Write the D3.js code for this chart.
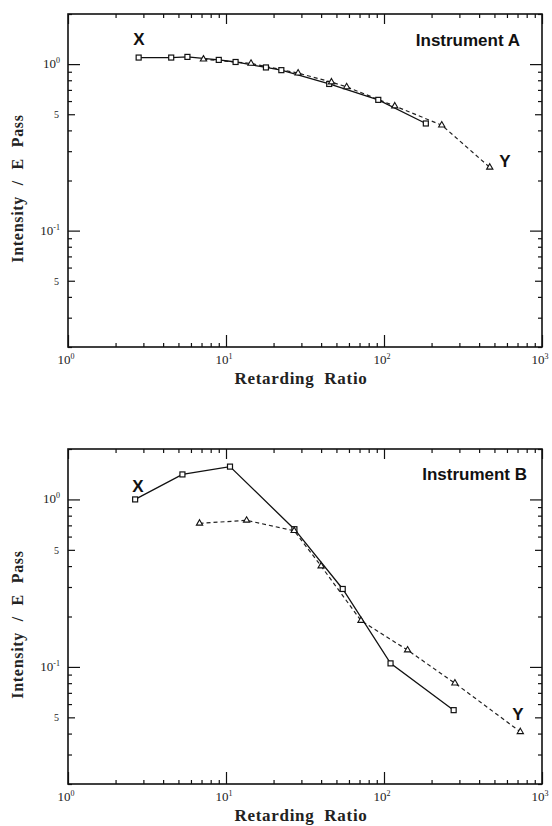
<!DOCTYPE html>
<html>
<head>
<meta charset="utf-8">
<script src="https://cdn.jsdelivr.net/npm/d3@7"></script>
<style>
  body { margin: 0; background: #fff; }
</style>
</head>
<body>
<svg id="chart" width="552" height="826"></svg>
<script>
'use strict';

// Instrument A : squares (solid, X) and triangles (dashed, Y)
var ratioSqA = [2.8, 4.5, 5.7, 9.0, 11.5, 17.9, 22.4, 45, 92, 184];
var intenSqA = [1.095, 1.095, 1.105, 1.06, 1.03, 0.955, 0.92, 0.76, 0.61, 0.44];
var ratioTrA = [7.2, 14.4, 28.6, 46.5, 58, 117, 232, 467];
var intenTrA = [1.07, 1.01, 0.883, 0.78, 0.73, 0.56, 0.43, 0.24];

// Instrument B
var ratioSqB = [2.66, 5.3, 10.6, 27.1, 54.8, 110, 276];
var intenSqB = [1.0, 1.41, 1.57, 0.664, 0.292, 0.105, 0.0552];
var ratioTrB = [6.8, 13.5, 27, 40, 71.5, 141, 281, 729];
var intenTrB = [0.72, 0.75, 0.65, 0.40, 0.189, 0.126, 0.080, 0.041];

// axis ticks
var xMajor = [1, 10, 100, 1000];
var xMajorExp = ['0', '1', '2', '3'];
var yMajor = [0.1, 1];
var yMajorExp = ['-1', '0'];
var yFive = [0.05, 0.5];
var xDomain = [1, 1000];
var yDomain = [0.02, 2];

var svg = d3.select('#chart');
var serif = '"Liberation Serif", "DejaVu Serif", serif';
var sans = '"Liberation Sans", Arial, sans-serif';

function minors(lo, hi) {
  var out = [];
  for (var d = lo; d < hi; d *= 10) {
    for (var k = 2; k <= 9; k++) {
      var v = k * d;
      if (v >= lo * 0.999 && v <= hi * 1.001) out.push(v);
    }
  }
  return out;
}

function powLabel(t, exp) {
  t.append('tspan').text('10');
  t.append('tspan').attr('dy', -5).attr('font-size', 8).text(exp);
}

function drawPanel(cfg) {
  var left = 68, right = 542, top = cfg.top, bottom = cfg.bottom;
  var x = d3.scaleLog().domain(xDomain).range([left, right]);
  var y = d3.scaleLog().domain(yDomain).range([bottom, top]);
  var g = svg.append('g');

  var xMin = minors(1, 1000);
  var yMin = minors(0.01, 2).filter(function (v) { return v >= 0.02 && yFive.indexOf(+v.toPrecision(3)) < 0; });

  function tickLayer(axis, tr, vals, len) {
    g.append('g')
      .attr('transform', tr)
      .call(axis.tickValues(vals).tickSizeInner(-len).tickSizeOuter(0).tickFormat(''))
      .call(function (s) {
        s.select('.domain').remove();
        s.selectAll('line').attr('stroke', '#111').attr('stroke-width', 1.2);
      });
  }

  tickLayer(d3.axisBottom(x), 'translate(0,' + bottom + ')', xMajor, 12);
  tickLayer(d3.axisBottom(x), 'translate(0,' + bottom + ')', xMin, 4);
  tickLayer(d3.axisTop(x), 'translate(0,' + top + ')', xMajor, 10);
  tickLayer(d3.axisTop(x), 'translate(0,' + top + ')', xMin, 4);
  tickLayer(d3.axisLeft(y), 'translate(' + left + ',0)', yMajor, 12);
  tickLayer(d3.axisLeft(y), 'translate(' + left + ',0)', yFive, 7);
  tickLayer(d3.axisLeft(y), 'translate(' + left + ',0)', yMin, 4);
  tickLayer(d3.axisRight(y), 'translate(' + right + ',0)', yMajor, 12);
  tickLayer(d3.axisRight(y), 'translate(' + right + ',0)', yFive, 7);
  tickLayer(d3.axisRight(y), 'translate(' + right + ',0)', yMin, 4);

  // frame
  g.append('rect')
    .attr('x', left).attr('y', top)
    .attr('width', right - left).attr('height', bottom - top)
    .attr('fill', 'none').attr('stroke', '#111').attr('stroke-width', 1.6);

  // x tick labels
  xMajor.forEach(function (v, i) {
    var t = g.append('text')
      .attr('x', x(v) - 2).attr('y', bottom + 17)
      .attr('text-anchor', 'middle')
      .attr('font-family', serif).attr('font-size', 13).attr('fill', '#222');
    powLabel(t, xMajorExp[i]);
  });

  // y tick labels
  yMajor.forEach(function (v, i) {
    var t = g.append('text')
      .attr('x', left - 8).attr('y', y(v) + 4)
      .attr('text-anchor', 'end')
      .attr('font-family', serif).attr('font-size', 13).attr('fill', '#222');
    powLabel(t, yMajorExp[i]);
  });
  yFive.forEach(function (v) {
    g.append('text')
      .attr('x', left - 9).attr('y', y(v) + 4)
      .attr('text-anchor', 'end')
      .attr('font-family', serif).attr('font-size', 10).attr('fill', '#222')
      .text('5');
  });

  // axis titles
  g.append('text')
    .attr('x', 301).attr('y', bottom + 37)
    .attr('text-anchor', 'middle')
    .attr('font-family', serif).attr('font-weight', 'bold').attr('font-size', 17)
    .attr('letter-spacing', 0.7).attr('word-spacing', 5).attr('fill', '#222')
    .text('Retarding Ratio');
  var cy = (top + bottom) / 2 + 8;
  g.append('text')
    .attr('transform', 'translate(23,' + cy + ') rotate(-90)')
    .attr('text-anchor', 'middle')
    .attr('font-family', serif).attr('font-weight', 'bold').attr('font-size', 16)
    .attr('letter-spacing', 0.7).attr('word-spacing', 6).attr('fill', '#222')
    .text('Intensity / E Pass');

  // data
  var line = d3.line()
    .x(function (d) { return x(d[0]); })
    .y(function (d) { return y(d[1]); });

  var sq = cfg.sqX.map(function (v, i) { return [v, cfg.sqY[i]]; });
  var tr = cfg.trX.map(function (v, i) { return [v, cfg.trY[i]]; });

  g.append('path').datum(tr).attr('d', line)
    .attr('fill', 'none').attr('stroke', '#222').attr('stroke-width', 1.2)
    .attr('stroke-dasharray', '4,3');
  g.append('path').datum(sq).attr('d', line)
    .attr('fill', 'none').attr('stroke', '#111').attr('stroke-width', 1.3);

  g.selectAll('.sq').data(sq).enter().append('rect')
    .attr('x', function (d) { return x(d[0]) - 2.5; })
    .attr('y', function (d) { return y(d[1]) - 2.5; })
    .attr('width', 5).attr('height', 5)
    .attr('fill', '#fff').attr('stroke', '#111').attr('stroke-width', 1.2);

  var tri = d3.symbol().type(d3.symbolTriangle).size(17);
  g.selectAll('.tr').data(tr).enter().append('path')
    .attr('d', tri)
    .attr('transform', function (d) { return 'translate(' + x(d[0]) + ',' + y(d[1]) + ')'; })
    .attr('fill', '#fff').attr('stroke', '#111').attr('stroke-width', 1.1);

  // annotations
  g.append('text')
    .attr('x', cfg.xLab[0]).attr('y', cfg.xLab[1])
    .attr('text-anchor', 'middle')
    .attr('font-family', sans).attr('font-weight', 'bold').attr('font-size', 17).attr('fill', '#111')
    .text('X');
  g.append('text')
    .attr('x', cfg.yLab[0]).attr('y', cfg.yLab[1])
    .attr('text-anchor', 'middle')
    .attr('font-family', sans).attr('font-weight', 'bold').attr('font-size', 17).attr('fill', '#111')
    .text('Y');
  g.append('text')
    .attr('x', cfg.title[0]).attr('y', cfg.title[1])
    .attr('text-anchor', 'end')
    .attr('font-family', sans).attr('font-weight', 'bold').attr('font-size', 17).attr('fill', '#111')
    .text(cfg.name);
}

drawPanel({
  top: 14, bottom: 347,
  sqX: ratioSqA, sqY: intenSqA, trX: ratioTrA, trY: intenTrA,
  xLab: [139, 45], yLab: [505, 167], title: [520, 46], name: 'Instrument A'
});

drawPanel({
  top: 449, bottom: 784,
  sqX: ratioSqB, sqY: intenSqB, trX: ratioTrB, trY: intenTrB,
  xLab: [138, 492], yLab: [518, 720], title: [527, 480], name: 'Instrument B'
});
</script>
</body>
</html>
